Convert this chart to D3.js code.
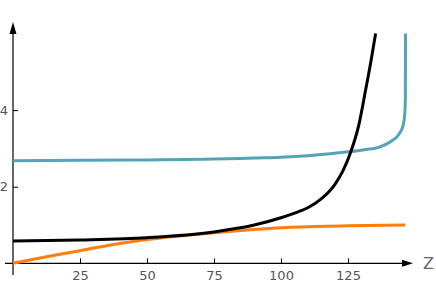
<!DOCTYPE html>
<html><head><meta charset="utf-8">
<script src="https://cdn.jsdelivr.net/npm/d3@7"></script>
<style>
html,body{margin:0;padding:0;background:#fff;}
svg{display:block;font-family:"DejaVu Sans",sans-serif;}
</style></head>
<body><svg id="c" width="436" height="286"></svg>
<script>
// Data
const xTicks = [25, 50, 75, 100, 125];
const yTicks = [2, 4];
const blueZ = [0, 25, 50, 75, 90, 100, 110, 118.3, 125, 130.7, 136.9, 140.7, 143.8, 145.6, 146.2, 146.4, 146.45];
const blueV = [2.68, 2.69, 2.70, 2.72, 2.75, 2.77, 2.81, 2.86, 2.91, 2.96, 3.04, 3.17, 3.35, 3.61, 3.9, 4.3, 6.0];
const blackZ = [0, 25, 50, 75, 90, 100, 107, 110, 115, 120, 123, 126, 129, 131.5, 133.5, 135.3];
const blackV = [0.58, 0.61, 0.67, 0.82, 1.0, 1.19, 1.36, 1.45, 1.68, 2.05, 2.4, 2.9, 3.6, 4.5, 5.25, 6.0];
const orangeZ = [0, 12.5, 25, 37.5, 50, 62.5, 75, 87.5, 100, 112.5, 125, 146.4];
const orangeV = [0, 0.17, 0.33, 0.49, 0.62, 0.72, 0.80, 0.87, 0.93, 0.96, 0.98, 1.0];
const axisLabel = "Z";

const svg = d3.select("#c");
const x = d3.scaleLinear().domain([0, 150]).range([13, 415]);
const y = d3.scaleLinear().domain([0, 6]).range([263.3, 33.5]);

// axes
const gx = svg.append("g").attr("transform", `translate(0,${y(0)})`)
  .call(d3.axisBottom(x).tickValues(xTicks).tickFormat(d3.format("d"))
    .tickSizeInner(-5).tickSizeOuter(0).tickPadding(7.5));
gx.select(".domain").remove();
const gy = svg.append("g").attr("transform", `translate(${x(0)},0)`)
  .call(d3.axisLeft(y).tickValues(yTicks).tickFormat(d3.format("d"))
    .tickSizeInner(-5).tickSizeOuter(0).tickPadding(5));
gy.select(".domain").remove();
svg.selectAll(".tick line").attr("stroke", "#000").attr("stroke-width", 1);
svg.selectAll(".tick text").attr("fill", "#555").style("font-size", "13px").style("font-family", "DejaVu Sans");

// axis lines with arrows
svg.append("line").attr("x1", 5).attr("x2", 405).attr("y1", y(0)).attr("y2", y(0)).attr("stroke", "#000").attr("stroke-width", 1.2);
svg.append("path").attr("d", `M413,${y(0)} L402,${y(0)-3.5} L402,${y(0)+3.5} Z`).attr("fill", "#000");
svg.append("line").attr("x1", x(0)).attr("x2", x(0)).attr("y1", 275).attr("y2", 32).attr("stroke", "#000").attr("stroke-width", 1.2);
svg.append("path").attr("d", `M${x(0)},22 L${x(0)-3.5},34 L${x(0)+3.5},34 Z`).attr("fill", "#000");
svg.append("text").attr("x", 423).attr("y", y(0) + 6).attr("fill", "#666")
  .style("font-size", "16px").text(axisLabel);

const line = d3.line().x(d => x(d[0])).y(d => y(d[1])).curve(d3.curveMonotoneX);
const series = [
  {z: orangeZ, v: orangeV, color: "#ff7f0e"},
  {z: blueZ, v: blueV, color: "#55a4b6"},
  {z: blackZ, v: blackV, color: "#000000"}
];
series.forEach(s => {
  svg.append("path").datum(s.z.map((z, i) => [z, s.v[i]]))
    .attr("d", line).attr("fill", "none").attr("stroke", s.color)
    .attr("stroke-width", 3).attr("stroke-linecap", "butt");
});
</script></body></html>
